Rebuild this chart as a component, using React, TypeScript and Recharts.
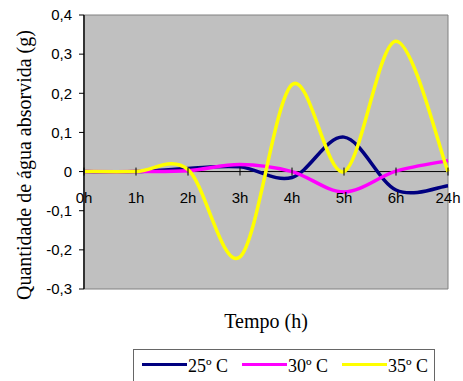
import React from 'react'
import {
  LineChart,
  Line,
  XAxis,
  YAxis,
  ReferenceArea,
  ReferenceLine,
  Legend,
} from 'recharts'

// ---- data ----
const HOURS = ['0h', '1h', '2h', '3h', '4h', '5h', '6h', '24h']
const TEMP_25 = [0, 0, 0.008, 0.012, -0.015, 0.088, -0.047, -0.036]
const TEMP_30 = [0, 0, 0.002, 0.018, 0.0, -0.052, 0.001, 0.028]
const TEMP_35 = [0, 0, 0.005, -0.218, 0.222, 0, 0.333, 0]
const Y_TICKS = [-0.3, -0.2, -0.1, 0, 0.1, 0.2, 0.3, 0.4]

const SERIES = [
  { key: 't25', name: '25º C', color: '#000080' },
  { key: 't30', name: '30º C', color: '#FF00FF' },
  { key: 't35', name: '35º C', color: '#FFFF00' },
]

const rows = HOURS.map((h, i) => ({
  hora: h,
  t25: TEMP_25[i],
  t30: TEMP_30[i],
  t35: TEMP_35[i],
}))

// ---- layout ----
const W = 463
const H = 381
const TOP = 15
const BOTTOM = 91
const X_AXIS_H = 1
const PLOT_H = H - TOP - BOTTOM - X_AXIS_H
const Y_MIN = -0.3
const Y_MAX = 0.4
const ZERO_Y = TOP + (PLOT_H * Y_MAX) / (Y_MAX - Y_MIN)

const SANS = '"Liberation Sans", Arial, sans-serif'
const SERIF = '"Liberation Serif", "Times New Roman", serif'

// Excel-style smoothed line (cardinal spline, control points at 1/6 of neighbour span)
function smoothCurve(context: any) {
  let pts: [number, number][] = []
  return {
    areaStart() {},
    areaEnd() {},
    lineStart() {
      pts = []
    },
    point(x: number, y: number) {
      pts.push([+x, +y])
    },
    lineEnd() {
      if (!pts.length) return
      context.moveTo(pts[0][0], pts[0][1])
      for (let i = 0; i < pts.length - 1; i++) {
        const p0 = pts[i - 1] ?? pts[i]
        const p1 = pts[i]
        const p2 = pts[i + 1]
        const p3 = pts[i + 2] ?? p2
        context.bezierCurveTo(
          p1[0] + (p2[0] - p0[0]) / 6,
          p1[1] + (p2[1] - p0[1]) / 6,
          p2[0] - (p3[0] - p1[0]) / 6,
          p2[1] - (p3[1] - p1[1]) / 6,
          p2[0],
          p2[1]
        )
      }
    },
  }
}

const fmtY = (v: number) => (v === 0 ? '0' : v.toFixed(1).replace('.', ','))

// category labels sit under the zero line, not at the bottom of the plot
function HourTick({ x, payload }: any) {
  return (
    <g>
      <line x1={x} x2={x} y1={ZERO_Y - 4} y2={ZERO_Y + 4} stroke="#000" />
      <text
        x={x}
        y={ZERO_Y + 31}
        textAnchor="middle"
        fontSize={15}
        fontFamily={SANS}
        fill="#000"
      >
        {payload.value}
      </text>
    </g>
  )
}

function BoxLegend() {
  return (
    <div
      style={{
        position: 'relative',
        width: 302,
        height: 34,
        boxSizing: 'border-box',
        border: '1px solid #666',
        background: '#fff',
      }}
    >
      {SERIES.map((s, i) => (
        <div key={s.key} style={{ position: 'absolute', left: 8 + i * 100, top: 0 }}>
          <div
            style={{
              position: 'absolute',
              left: 0,
              top: 13,
              width: 45,
              height: 3,
              background: s.color,
            }}
          />
          <div
            style={{
              position: 'absolute',
              left: 46,
              top: 7,
              fontFamily: SERIF,
              fontSize: 18,
              lineHeight: '18px',
              whiteSpace: 'nowrap',
              color: '#000',
            }}
          >
            {s.name}
          </div>
        </div>
      ))}
    </div>
  )
}

export default function App() {
  return (
    <div
      style={{
        position: 'absolute',
        left: 0,
        top: 0,
        width: W,
        height: H,
        background: '#fff',
        overflow: 'hidden',
      }}
    >
      <LineChart
        width={W}
        height={H}
        data={rows}
        margin={{ top: TOP, right: 15, bottom: BOTTOM, left: 0 }}
      >
        <ReferenceArea
          x1="0h"
          x2="24h"
          y1={Y_MIN}
          y2={Y_MAX}
          fill="#C0C0C0"
          fillOpacity={1}
          stroke="#808080"
          strokeWidth={1}
        />
        <ReferenceLine y={0} stroke="#000" strokeWidth={1} />
        <XAxis
          dataKey="hora"
          height={X_AXIS_H}
          interval={0}
          axisLine={false}
          tickLine={false}
          tick={<HourTick />}
        />
        <YAxis
          width={84}
          domain={[Y_MIN, Y_MAX]}
          ticks={Y_TICKS}
          tickFormatter={fmtY}
          axisLine={{ stroke: '#333', strokeWidth: 2 }}
          tickLine={{ stroke: '#000' }}
          tickSize={5}
          tickMargin={7}
          tick={{ fontSize: 15, fill: '#000', fontFamily: SANS }}
          allowDataOverflow
        />
        {SERIES.map(s => (
          <Line
            key={s.key}
            dataKey={s.key}
            name={s.name}
            type={smoothCurve as any}
            stroke={s.color}
            strokeWidth={3.5}
            dot={false}
            activeDot={false}
            isAnimationActive={false}
          />
        ))}
        <Legend
          layout="horizontal"
          verticalAlign="middle"
          align="center"
          content={<BoxLegend />}
          wrapperStyle={{ left: 133, top: 349, width: 302, height: 34 }}
        />
      </LineChart>

      {/* axis titles */}
      <div
        style={{
          position: 'absolute',
          left: 24,
          top: 165,
          transform: 'translate(-50%, -50%) rotate(-90deg)',
          fontFamily: SERIF,
          fontSize: 20,
          lineHeight: '20px',
          whiteSpace: 'nowrap',
          color: '#000',
        }}
      >
        Quantidade de água absorvida (g)
      </div>
      <div
        style={{
          position: 'absolute',
          left: 266,
          top: 311,
          transform: 'translateX(-50%)',
          fontFamily: SERIF,
          fontSize: 20,
          lineHeight: '20px',
          whiteSpace: 'nowrap',
          color: '#000',
        }}
      >
        Tempo (h)
      </div>
    </div>
  )
}
